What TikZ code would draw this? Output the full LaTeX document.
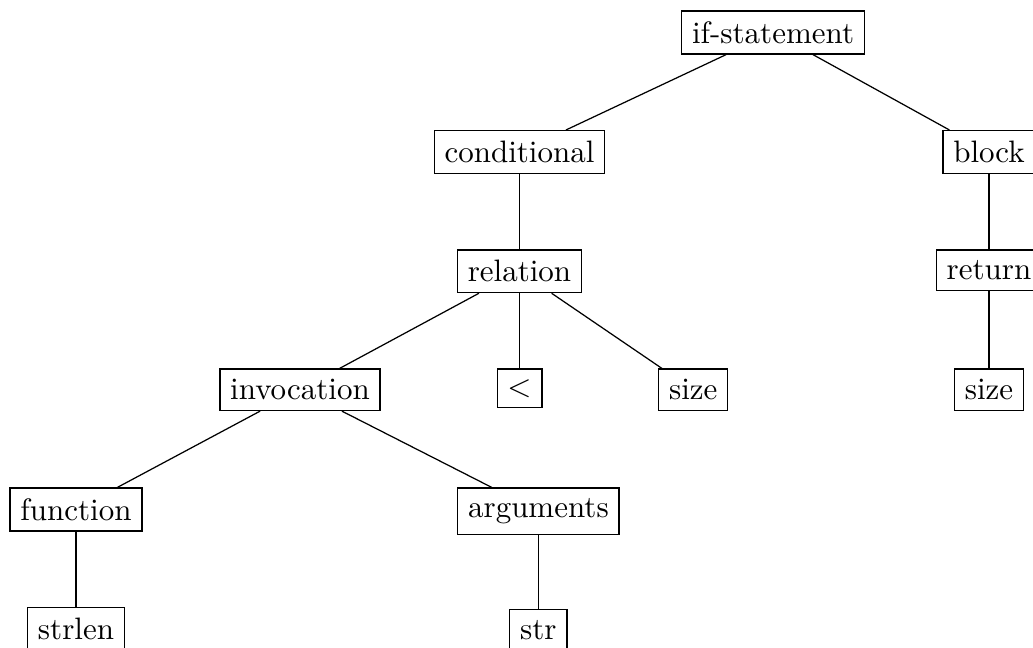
\documentclass[tikz,border=0pt]{standalone}
\begin{document}
\begin{tikzpicture}[x=0.3226pt,y=-0.3226pt,
  tnode/.style={draw,line width=0.4pt,anchor=north,font=\normalsize},
  tedge/.style={line width=0.4pt}]
\useasboundingbox (0,0) rectangle (1033,648);
% nodes of the syntax tree, placed by their top edges
\node[tnode] (ifs)    at (773,10.5)   {if-statement};
\node[tnode] (cond)   at (519.5,130)  {conditional};
\node[tnode] (block)  at (989,130)    {block};
\node[tnode] (rel)    at (519.5,249.5){relation};
\node[tnode] (ret)    at (989,249.5)  {return};
\node[tnode] (inv)    at (300,368.5)  {invocation};
\node[tnode] (lt)     at (519.5,368.5){$<$};
\node[tnode] (sizea)  at (693.3,368.5){size};
\node[tnode] (sizeb)  at (989,368.5)  {size};
\node[tnode] (func)   at (76,487.5)   {function};
\node[tnode] (args)   at (538.4,487.5){arguments};
\node[tnode] (strlen) at (76,607)     {strlen};
\node[tnode] (str)    at (538.4,609)  {str};
% edges
\draw[tedge] (ifs) -- (cond);
\draw[tedge] (ifs) -- (block);
\draw[tedge] (cond) -- (rel);
\draw[tedge] (block) -- (ret);
\draw[tedge] (ret) -- (sizeb);
\draw[tedge] (rel) -- (inv);
\draw[tedge] (rel) -- (lt);
\draw[tedge] (rel) -- (sizea);
\draw[tedge] (inv) -- (func);
\draw[tedge] (inv) -- (args);
\draw[tedge] (func) -- (strlen);
\draw[tedge] (args) -- (str);
\end{tikzpicture}
\end{document}
